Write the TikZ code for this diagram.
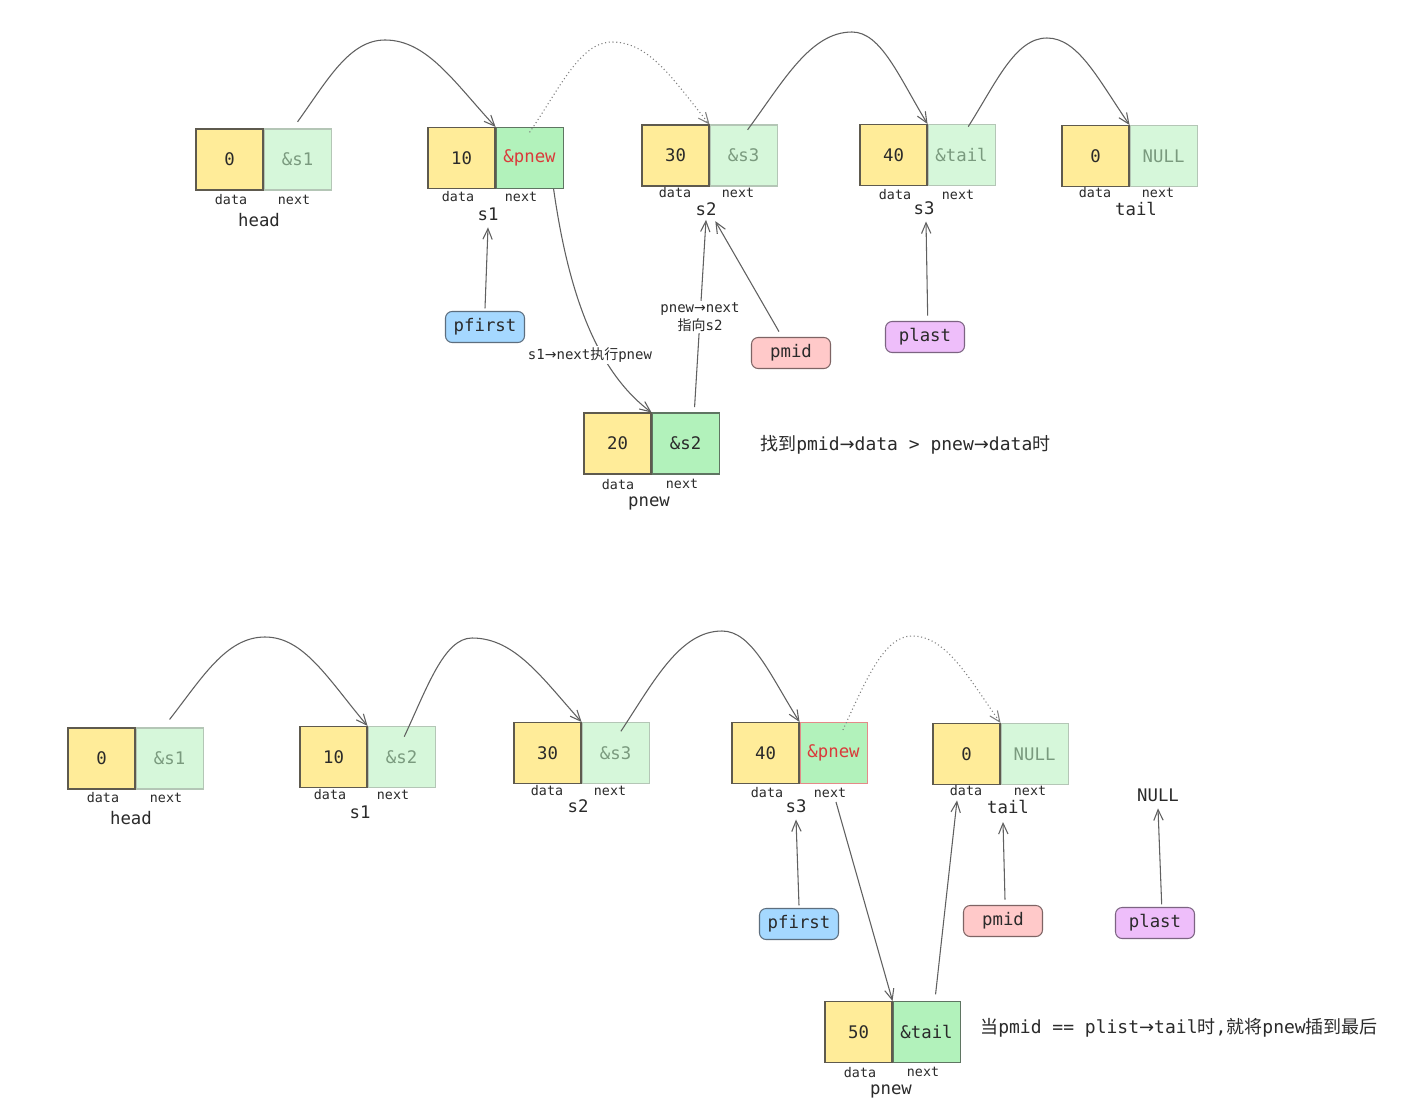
\documentclass[tikz,border=0pt]{standalone}
\usepackage{fontspec}
\setmainfont{DejaVu Sans Mono}
\newfontfamily\cjk{Noto Sans CJK SC}
\newfontfamily\symf{DejaVu Sans}
\newcommand{\ra}{{\symf →}}
\usetikzlibrary{arrows.meta}
\definecolor{ylw}{HTML}{FFEC99}
\definecolor{ltgreen}{HTML}{D6F7DA}
\definecolor{midgreen}{HTML}{B2F2BB}
\definecolor{dataedge}{HTML}{5E5A4E}
\definecolor{ltedge}{HTML}{B4C6B6}
\definecolor{dkedge}{HTML}{5F7562}
\definecolor{lttext}{HTML}{7A9A7E}
\definecolor{redtext}{HTML}{DA3A3A}
\definecolor{rededge}{HTML}{E48A88}
\definecolor{txt}{HTML}{2A2A2A}
\definecolor{lnk}{HTML}{606060}
\definecolor{pblue}{HTML}{A5D8FF}
\definecolor{pblueedge}{HTML}{5D6E7E}
\definecolor{ppink}{HTML}{FFC9C9}
\definecolor{ppinkedge}{HTML}{7E6464}
\definecolor{ppurple}{HTML}{EEBEFA}
\definecolor{ppurpleedge}{HTML}{7C6482}
\tikzset{
 cellbase/.style={minimum width=50.25pt, minimum height=45.75pt, inner sep=0pt, line width=0.8pt, font=\fontsize{13}{15}\selectfont},
 datacell/.style={cellbase, draw=dataedge, fill=ylw, text=txt},
 nextcell/.style={cellbase, draw=ltedge, fill=ltgreen, text=lttext},
 nexthot/.style={cellbase, draw=dkedge, fill=midgreen, text=txt},
 lbl/.style={font=\fontsize{10}{12}\selectfont, text=txt, inner sep=1pt},
 nm/.style={font=\fontsize{13}{15}\selectfont, text=txt, inner sep=1pt},
 ptr/.style={rounded corners=5pt, minimum width=59.25pt, minimum height=23.25pt, inner sep=0pt, line width=0.8pt, font=\fontsize{13}{15}\selectfont, text=txt},
 link/.style={draw=lnk, line width=0.8pt, -{Straight Barb[length=8pt,width=7pt]}},
 dlink/.style={link, dotted, draw=lnk!80},
 note/.style={font=\fontsize{13.5}{16}\selectfont, text=txt, anchor=west, inner sep=0pt},
 midnote/.style={font=\fontsize{10.5}{13}\selectfont, text=txt, fill=white, align=center, inner sep=1.5pt}
}
\begin{document}
\begin{tikzpicture}[x=0.75pt,y=-0.75pt]
\useasboundingbox[fill=white] (0,0) rectangle (1406,1110);

% ===== TOP ROW =====
\node[datacell] (Thd) at (229.5,159.5) {0};
\node[nextcell, anchor=west] (Thn) at (Thd.east) {\&s1};
\node[lbl] (Thdl) at (231,200) {data};
\node[lbl] (Thnl) at (294,200) {next};
\node[nm] (Thnm) at (259,220) {head};

\node[datacell] (Ts1d) at (461.5,158) {10};
\node[nexthot, text=redtext, anchor=west] (Ts1n) at (Ts1d.east) {\&pnew};
\node[lbl] (Ts1dl) at (458,197) {data};
\node[lbl] (Ts1nl) at (521,197) {next};
\node[nm] (Ts1nm) at (488,214) {s1};

\node[datacell] (Ts2d) at (675.5,155.5) {30};
\node[nextcell, anchor=west] (Ts2n) at (Ts2d.east) {\&s3};
\node[lbl] (Ts2dl) at (675,193) {data};
\node[lbl] (Ts2nl) at (738,193) {next};
\node[nm] (Ts2nm) at (706,209) {s2};

\node[datacell] (Ts3d) at (893.5,155) {40};
\node[nextcell, anchor=west] (Ts3n) at (Ts3d.east) {\&tail};
\node[lbl] (Ts3dl) at (895,195) {data};
\node[lbl] (Ts3nl) at (958,195) {next};
\node[nm] (Ts3nm) at (924,208) {s3};

\node[datacell] (Ttd) at (1095.5,156) {0};
\node[nextcell, anchor=west] (Ttn) at (Ttd.east) {NULL};
\node[lbl] (Ttdl) at (1095,193) {data};
\node[lbl] (Ttnl) at (1158,193) {next};
\node[nm] (Ttnm) at (1136,209) {tail};

\node[datacell] (Tpd) at (617.5,443.5) {20};
\node[nexthot, anchor=west] (Tpn) at (Tpd.east) {\&s2};
\node[lbl] (Tpdl) at (618,485) {data};
\node[lbl] (Tpnl) at (682,484) {next};
\node[nm] (Tpnm) at (649,503) {pnew};

\node[ptr, fill=pblue, draw=pblueedge] (Tpf) at (485,327) {pfirst};
\node[ptr, fill=ppink, draw=ppinkedge] (Tpm) at (791,353) {pmid};
\node[ptr, fill=ppurple, draw=ppurpleedge] (Tpl) at (925,337) {plast};

% top curves
\draw[link] ([yshift=5pt]Thn.north) .. controls (327,81) and (349,40) .. (385,40) .. controls (427,40) and (454,82) .. (Ts1n.north west);
\draw[dlink] ([yshift=-4pt]Ts1n.north) .. controls (560,88) and (580,42) .. (612,42) .. controls (650,42) and (674,81) .. (Ts2n.north west);
\draw[link] ([xshift=3pt,yshift=-4pt]Ts2n.north) .. controls (783,82) and (810,32) .. (852,32) .. controls (881,32) and (899,77) .. (Ts3n.north west);
\draw[link] ([xshift=5pt,yshift=-2pt]Ts3n.north) .. controls (996,83) and (1015,38) .. (1047,38) .. controls (1078,38) and (1098,79) .. (Ttn.north west);

% top straight pointers
\draw[link] ([yshift=2pt]Tpf.north) -- ([yshift=-4pt]Ts1nm.south);
\draw[link] ([xshift=-9pt,yshift=4pt]Tpm.north) -- ([xshift=7pt,yshift=-3pt]Ts2nm.south);
\draw[link] ([xshift=6.75pt,yshift=4pt]Tpn.north) -- ([yshift=-2pt]Ts2nm.south);
\draw[link] ([xshift=2pt,yshift=4pt]Tpl.north) -- ([xshift=1.5pt,yshift=-4pt]Ts3nm.south);
\node[midnote] (Tnote1) at (700,317) {pnew\ra next\\{\cjk 指向}s2};

\draw[link] ([xshift=-7.5pt]Ts1n.south east) .. controls (568,290) and (595,370) .. (Tpd.north east);
\node[midnote] (Tnote2) at (590,355) {s1\ra next{\cjk 执行}pnew};

\node[note] (Tnote3) at (760,445) {{\cjk 找到}pmid\ra data > pnew\ra data{\cjk 时}};

% ===== BOTTOM ROW =====
\node[datacell] (Bhd) at (101.5,758.5) {0};
\node[nextcell, anchor=west] (Bhn) at (Bhd.east) {\&s1};
\node[lbl] (Bhdl) at (103,798) {data};
\node[lbl] (Bhnl) at (166,798) {next};
\node[nm] (Bhnm) at (131,818) {head};

\node[datacell] (Bs1d) at (333.5,757) {10};
\node[nextcell, anchor=west] (Bs1n) at (Bs1d.east) {\&s2};
\node[lbl] (Bs1dl) at (330,795) {data};
\node[lbl] (Bs1nl) at (393,795) {next};
\node[nm] (Bs1nm) at (360,812) {s1};

\node[datacell] (Bs2d) at (547.5,753) {30};
\node[nextcell, anchor=west] (Bs2n) at (Bs2d.east) {\&s3};
\node[lbl] (Bs2dl) at (547,791) {data};
\node[lbl] (Bs2nl) at (610,791) {next};
\node[nm] (Bs2nm) at (578,806) {s2};

\node[datacell] (Bs3d) at (765.5,753) {40};
\node[nexthot, draw=rededge, text=redtext, anchor=west] (Bs3n) at (Bs3d.east) {\&pnew};
\node[lbl] (Bs3dl) at (767,793) {data};
\node[lbl] (Bs3nl) at (830,793) {next};
\node[nm] (Bs3nm) at (796,806) {s3};

\node[datacell] (Btd) at (966.5,754) {0};
\node[nextcell, anchor=west] (Btn) at (Btd.east) {NULL};
\node[lbl] (Btdl) at (966,791) {data};
\node[lbl] (Btnl) at (1030,791) {next};
\node[nm] (Btnm) at (1008,807) {tail};

\node[nm] (Bnull) at (1158,795) {NULL};

\node[datacell] (Bpd) at (858.5,1032) {50};
\node[nexthot, anchor=west] (Bpn) at (Bpd.east) {\&tail};
\node[lbl] (Bpdl) at (860,1073) {data};
\node[lbl] (Bpnl) at (923,1072) {next};
\node[nm] (Bpnm) at (891,1091) {pnew};

\node[ptr, fill=pblue, draw=pblueedge] (Bpf) at (799,924) {pfirst};
\node[ptr, fill=ppink, draw=ppinkedge] (Bpm) at (1003,921) {pmid};
\node[ptr, fill=ppurple, draw=ppurpleedge] (Bpl) at (1155,923) {plast};

% bottom curves
\draw[link] ([yshift=6pt]Bhn.north) .. controls (202,678) and (226,637) .. (265,637) .. controls (304,637) and (328,679) .. (Bs1n.north west);
\draw[link] ([xshift=2pt,yshift=-8pt]Bs1n.north) .. controls (427,688) and (444,638) .. (472,638) .. controls (515,638) and (542,678) .. (Bs2n.north west);
\draw[link] ([xshift=4pt,yshift=-7pt]Bs2n.north) .. controls (654,681) and (680,631) .. (722,631) .. controls (752,631) and (770,675) .. (Bs3n.north west);
\draw[dlink] ([xshift=7pt,yshift=-6pt]Bs3n.north) .. controls (866,680) and (884,636) .. (912,636) .. controls (946,636) and (968,677) .. (Btn.north west);

% bottom straight pointers
\draw[link] ([yshift=2pt]Bpf.north) -- ([yshift=-4pt]Bs3nm.south);
\draw[link] ([xshift=4.5pt,yshift=-2pt]Bs3nl.south) -- (Bpd.north east);
\draw[link] ([xshift=6.75pt,yshift=5pt]Bpn.north) -- ([xshift=-6.75pt,yshift=-2pt]Btdl.south);
\draw[link] ([xshift=1.5pt,yshift=4pt]Bpm.north) -- ([xshift=-3.75pt,yshift=-5pt]Btnm.south);
\draw[link] ([xshift=5pt,yshift=2pt]Bpl.north) -- ([yshift=-4pt]Bnull.south);

\node[note] (Bnote) at (980,1028) {{\cjk 当}pmid == plist\ra tail{\cjk 时},{\cjk 就将}pnew{\cjk 插到最后}};
\end{tikzpicture}
\end{document}
